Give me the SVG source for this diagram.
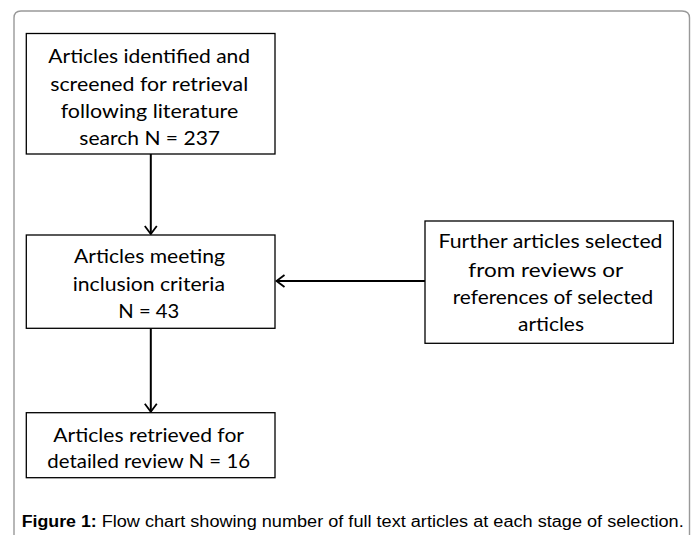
<svg xmlns="http://www.w3.org/2000/svg" width="696" height="535" viewBox="0 0 696 535">
<style>
.box{fill:#fff;stroke:#000;stroke-width:1.3}
.t{font-family:Lato,"Liberation Sans",sans-serif;font-size:18.6px;fill:#000;text-anchor:middle}
.edge{stroke:#000;stroke-width:2;fill:none}
.cap{font-family:"Liberation Sans",Arial,sans-serif;font-size:16px;fill:#000}
</style>
<defs>
<marker id="arr" markerUnits="userSpaceOnUse" markerWidth="16" markerHeight="16" refX="9" refY="7" orient="auto">
<path d="M1,1 L9,7 L1,13" fill="none" stroke="#000" stroke-width="1.8"/>
</marker>
</defs>
<rect width="696" height="535" fill="#fff"/>
<path d="M14,545 L14,18 Q14,11 21,11 L682,11 Q689.5,11 689.5,18 L689.5,545" fill="none" stroke="#999" stroke-width="1.4"/>
<g id="connectors">
<line class="edge" x1="150.8" y1="154" x2="150.8" y2="234" marker-end="url(#arr)"/>
<line class="edge" x1="425" y1="281" x2="276.5" y2="281" marker-end="url(#arr)"/>
<line class="edge" x1="150.8" y1="328.3" x2="150.8" y2="411.7" marker-end="url(#arr)"/>
</g>
<g id="n1">
<rect class="box" x="26.3" y="33.5" width="248.7" height="120.5"/>
<text class="t" x="149.2" y="63.3" textLength="201.7" lengthAdjust="spacingAndGlyphs">Articles identified and</text>
<text class="t" x="149.2" y="90.5" textLength="198" lengthAdjust="spacingAndGlyphs">screened for retrieval</text>
<text class="t" x="149.5" y="117.7" textLength="177.6" lengthAdjust="spacingAndGlyphs">following literature</text>
<text class="t" x="149.7" y="145" textLength="140.7" lengthAdjust="spacingAndGlyphs">search N = 237</text>
</g>
<g id="n2">
<rect class="box" x="26.3" y="235" width="248.7" height="93.3"/>
<text class="t" x="149.5" y="263.3" textLength="151" lengthAdjust="spacingAndGlyphs">Articles meeting</text>
<text class="t" x="148.8" y="290.7" textLength="152.3" lengthAdjust="spacingAndGlyphs">inclusion criteria</text>
<text class="t" x="148.8" y="318.3" textLength="61" lengthAdjust="spacingAndGlyphs">N = 43</text>
</g>
<g id="n3">
<rect class="box" x="425" y="221" width="248.3" height="122.3"/>
<text class="t" x="550.5" y="248.3" textLength="224" lengthAdjust="spacingAndGlyphs">Further articles selected</text>
<text class="t" x="545.8" y="276.7" textLength="155" lengthAdjust="spacingAndGlyphs">from reviews or</text>
<text class="t" x="553" y="304.3" textLength="200.6" lengthAdjust="spacingAndGlyphs">references of selected</text>
<text class="t" x="551" y="330.5" textLength="66" lengthAdjust="spacingAndGlyphs">articles</text>
</g>
<g id="n4">
<rect class="box" x="26.3" y="412.7" width="248.7" height="65"/>
<text class="t" x="148.7" y="441.7" textLength="190.7" lengthAdjust="spacingAndGlyphs">Articles retrieved for</text>
<text class="t" x="148.7" y="468.3" textLength="202.7" lengthAdjust="spacingAndGlyphs">detailed review N = 16</text>
</g>
<text class="cap" y="526.7"><tspan x="21.7" font-weight="bold" textLength="75" lengthAdjust="spacingAndGlyphs">Figure 1:</tspan><tspan x="101.7" textLength="582" lengthAdjust="spacingAndGlyphs">Flow chart showing number of full text articles at each stage of selection.</tspan></text>
</svg>
